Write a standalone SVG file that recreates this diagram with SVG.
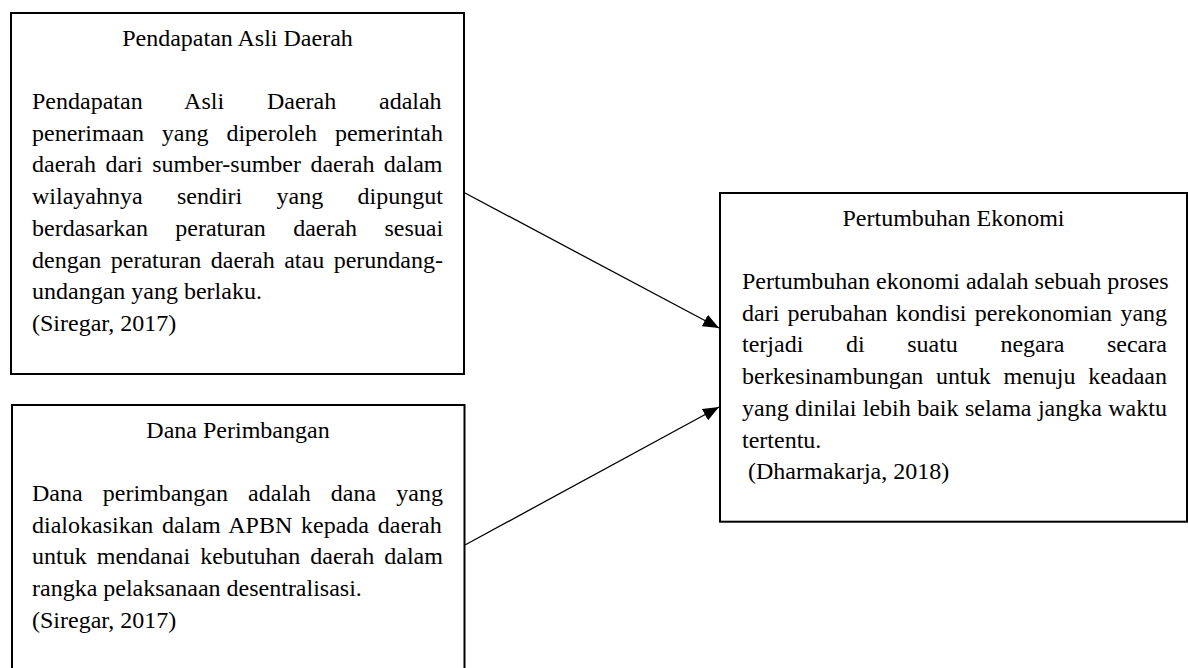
<svg xmlns="http://www.w3.org/2000/svg" width="1188" height="668" viewBox="0 0 1188 668">
<style>
.box{fill:#fff;stroke:#000;stroke-width:2}
text{font-family:"Liberation Serif","Times New Roman",serif;font-size:24px;fill:#000}
.t{text-anchor:middle}
.c{fill:none;stroke:#000;stroke-width:1.3}
</style>
<defs>
<marker id="ah" markerUnits="userSpaceOnUse" viewBox="0 0 16 13" refX="16" refY="6.5" markerWidth="16" markerHeight="13" orient="auto">
<path d="M0,0 L16,6.5 L0,13 z" fill="#000"/>
</marker>
</defs>
<rect width="1188" height="668" fill="#fff"/>
<g id="connectors">
<line class="c" x1="465" y1="193" x2="719" y2="328" marker-end="url(#ah)"/>
<line class="c" x1="465" y1="545" x2="719" y2="407" marker-end="url(#ah)"/>
</g>
<g id="node-pad">
<rect class="box" x="11" y="13" width="453" height="361"/>
<text class="t" x="237.5" y="45.5">Pendapatan Asli Daerah</text>
<text x="32" y="109" word-spacing="36.8">Pendapatan Asli Daerah adalah</text>
<text x="32" y="140.7" word-spacing="11.9">penerimaan yang diperoleh pemerintah</text>
<text x="32" y="172.4" word-spacing="3.45">daerah dari sumber-sumber daerah dalam</text>
<text x="32" y="204.1" word-spacing="28.3">wilayahnya sendiri yang dipungut</text>
<text x="32" y="235.8" word-spacing="21.3">berdasarkan peraturan daerah sesuai</text>
<text x="32" y="267.5" word-spacing="3.45">dengan peraturan daerah atau perundang-</text>
<text x="32" y="299.2">undangan yang berlaku.</text>
<text x="32" y="330.9">(Siregar, 2017)</text>
</g>
<g id="node-dp">
<rect class="box" x="12" y="405" width="452.5" height="290"/>
<text class="t" x="238" y="437.5">Dana Perimbangan</text>
<text x="32" y="501" word-spacing="14.1">Dana perimbangan adalah dana yang</text>
<text x="32" y="532.7" word-spacing="2.8">dialokasikan dalam APBN kepada daerah</text>
<text x="32" y="564.4" word-spacing="4.1">untuk mendanai kebutuhan daerah dalam</text>
<text x="32" y="596.1">rangka pelaksanaan desentralisasi.</text>
<text x="32" y="627.8">(Siregar, 2017)</text>
</g>
<g id="node-pe">
<rect class="box" x="720" y="193" width="467" height="328.7"/>
<text class="t" x="953.5" y="225.5">Pertumbuhan Ekonomi</text>
<text x="742" y="289">Pertumbuhan ekonomi adalah sebuah proses</text>
<text x="742" y="320.7" word-spacing="2.3">dari perubahan kondisi perekonomian yang</text>
<text x="742" y="352.4" word-spacing="36.6">terjadi di suatu negara secara</text>
<text x="742" y="384.1" word-spacing="6.8">berkesinambungan untuk menuju keadaan</text>
<text x="742" y="415.8" word-spacing="0.4">yang dinilai lebih baik selama jangka waktu</text>
<text x="742" y="447.5">tertentu.</text>
<text x="748" y="479.2">(Dharmakarja, 2018)</text>
</g>
</svg>
